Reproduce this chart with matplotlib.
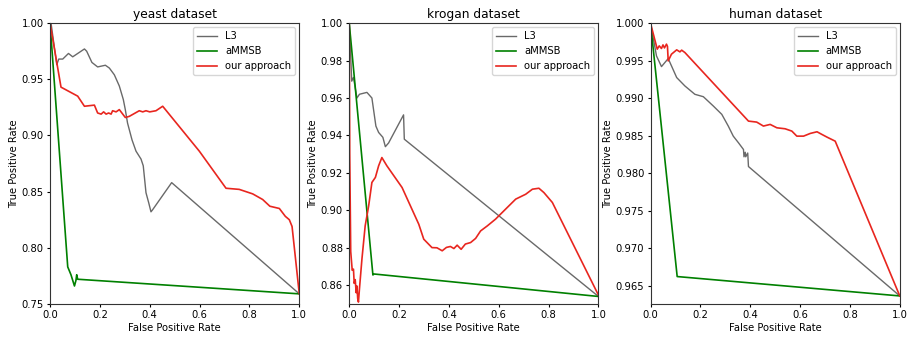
import numpy as np
import matplotlib
matplotlib.use('Agg')
import matplotlib.pyplot as plt

# yeast dataset
yeast_l3_fpr = [0.0, 0.004, 0.027, 0.035, 0.051, 0.074, 0.091, 0.138, 0.147, 0.168, 0.191, 0.222, 0.238,
                0.258, 0.278, 0.294, 0.302, 0.311, 0.329, 0.345, 0.365, 0.374, 0.385, 0.396, 0.405, 0.412,
                0.488, 1.0]
yeast_l3_tpr = [1.0, 1.0, 0.963, 0.968, 0.968, 0.973, 0.970, 0.977, 0.975, 0.965, 0.961, 0.9625, 0.960,
                0.954, 0.944, 0.932, 0.923, 0.911, 0.896, 0.886, 0.879, 0.873, 0.849, 0.840, 0.832, 0.834,
                0.858, 0.759]
yeast_ammsb_fpr = [0.0, 0.071, 0.084, 0.098, 0.104, 0.107, 0.111, 1.0]
yeast_ammsb_tpr = [1.0, 0.783, 0.776, 0.766, 0.771, 0.776, 0.772, 0.759]
yeast_ours_fpr = [0.0, 0.044, 0.111, 0.138, 0.178, 0.191, 0.205, 0.215, 0.225, 0.235, 0.245, 0.251, 0.265,
                  0.278, 0.302, 0.318, 0.358, 0.372, 0.385, 0.40, 0.425, 0.452, 0.599, 0.706, 0.759, 0.786,
                  0.813, 0.853, 0.882, 0.920, 0.944, 0.960, 0.971, 1.0]
yeast_ours_tpr = [1.0, 0.943, 0.935, 0.926, 0.927, 0.920, 0.919, 0.921, 0.919, 0.920, 0.919, 0.922, 0.921,
                  0.923, 0.916, 0.917, 0.922, 0.921, 0.922, 0.921, 0.922, 0.926, 0.886, 0.853, 0.852, 0.850,
                  0.848, 0.843, 0.837, 0.835, 0.828, 0.825, 0.819, 0.759]

# krogan dataset
krogan_l3_fpr = [0.0, 0.001, 0.010, 0.017, 0.031, 0.041, 0.071, 0.091, 0.107, 0.118, 0.135, 0.145, 0.158,
                 0.218, 0.221, 1.0]
krogan_l3_tpr = [1.0, 0.9986, 0.969, 0.971, 0.960, 0.962, 0.963, 0.960, 0.945, 0.9416, 0.939, 0.934, 0.936,
                 0.951, 0.938, 0.854]
krogan_ammsb_fpr = [0.0, 0.095, 0.100, 1.0]
krogan_ammsb_tpr = [1.0, 0.8655, 0.866, 0.854]
krogan_ours_fpr = [0.0, 0.002, 0.006, 0.012, 0.017, 0.020, 0.024, 0.028, 0.031, 0.034, 0.037, 0.041, 0.051,
                   0.064, 0.078, 0.091, 0.105, 0.118, 0.131, 0.151, 0.212, 0.279, 0.299, 0.332, 0.352, 0.373,
                   0.390, 0.406, 0.420, 0.433, 0.449, 0.466, 0.487, 0.507, 0.527, 0.554, 0.587, 0.627, 0.668,
                   0.708, 0.735, 0.761, 0.781, 0.815, 1.0]
krogan_ours_tpr = [1.0, 0.93, 0.878, 0.868, 0.8686, 0.861, 0.863, 0.856, 0.8596, 0.853, 0.851, 0.858, 0.874,
                   0.8917, 0.9024, 0.9149, 0.9176, 0.9238, 0.9282, 0.9238, 0.9122, 0.8926, 0.8846, 0.8801,
                   0.880, 0.8784, 0.8802, 0.8807, 0.8796, 0.8814, 0.8792, 0.882, 0.8828, 0.885, 0.889, 0.8917,
                   0.8953, 0.9006, 0.906, 0.9086, 0.9113, 0.9118, 0.9095, 0.9042, 0.8547]

# human dataset
human_l3_fpr = [0.0, 0.024, 0.044, 0.071, 0.105, 0.138, 0.178, 0.212, 0.252, 0.286, 0.312, 0.332, 0.353,
                0.373, 0.375, 0.380, 0.382, 0.390, 0.393, 1.0]
human_l3_tpr = [1.0, 0.99563, 0.99421, 0.99528, 0.99275, 0.99163, 0.99052, 0.9902, 0.98896, 0.98785,
                0.98629, 0.98495, 0.98406, 0.98317, 0.9822, 0.9828, 0.9822, 0.9827, 0.9809, 0.96367]
human_ammsb_fpr = [0.0, 0.107, 1.0]
human_ammsb_tpr = [1.0, 0.96625, 0.96367]
human_ours_fpr = [0.0, 0.027, 0.035, 0.044, 0.050, 0.056, 0.064, 0.068, 0.071, 0.084, 0.105, 0.118, 0.125,
                  0.138, 0.393, 0.426, 0.453, 0.480, 0.507, 0.540, 0.567, 0.587, 0.614, 0.641, 0.668, 0.688,
                  0.708, 0.741, 1.0]
human_ours_tpr = [1.0, 0.99653, 0.99697, 0.99662, 0.9971, 0.9967, 0.9972, 0.9969, 0.99497, 0.99586,
                  0.99644, 0.99617, 0.9964, 0.99608, 0.98695, 0.98682, 0.98629, 0.98651, 0.98606, 0.98593,
                  0.98562, 0.98495, 0.98495, 0.98531, 0.98553, 0.98517, 0.98482, 0.98428, 0.96367]

titles = ['yeast dataset', 'krogan dataset', 'human dataset']
ylims = [(0.75, 1.0), (0.85, 1.0), (0.9626, 1.0)]
data = [
    (yeast_l3_fpr, yeast_l3_tpr, yeast_ammsb_fpr, yeast_ammsb_tpr, yeast_ours_fpr, yeast_ours_tpr),
    (krogan_l3_fpr, krogan_l3_tpr, krogan_ammsb_fpr, krogan_ammsb_tpr, krogan_ours_fpr, krogan_ours_tpr),
    (human_l3_fpr, human_l3_tpr, human_ammsb_fpr, human_ammsb_tpr, human_ours_fpr, human_ours_tpr),
]

fs = 7.2
fig = plt.figure(figsize=(9.13, 3.4), dpi=100)
lefts = [0.0548, 0.3825, 0.7125]
for i in range(3):
    ax = fig.add_axes([lefts[i], 0.106, 0.273, 0.826])
    l3x, l3y, amx, amy, ox, oy = data[i]
    ax.plot(l3x, l3y, color='dimgray', lw=1.0, label='L3')
    ax.plot(amx, amy, color='green', lw=1.2, label='aMMSB')
    ax.plot(ox, oy, color='#e8261f', lw=1.2, label='our approach')
    ax.set_xlim(0, 1)
    ax.set_ylim(*ylims[i])
    ax.set_title(titles[i], fontsize=8.8, pad=4)
    ax.set_xlabel('False Positive Rate', fontsize=fs, labelpad=2)
    ax.set_ylabel('True Positive Rate', fontsize=fs, labelpad=2)
    ax.tick_params(labelsize=fs, length=2.5, pad=2)
    for sp in ax.spines.values():
        sp.set_color('#333333')
    ax.legend(loc='upper right', fontsize=fs, fancybox=True, borderaxespad=0.4)

plt.savefig('out.png', dpi=100)
